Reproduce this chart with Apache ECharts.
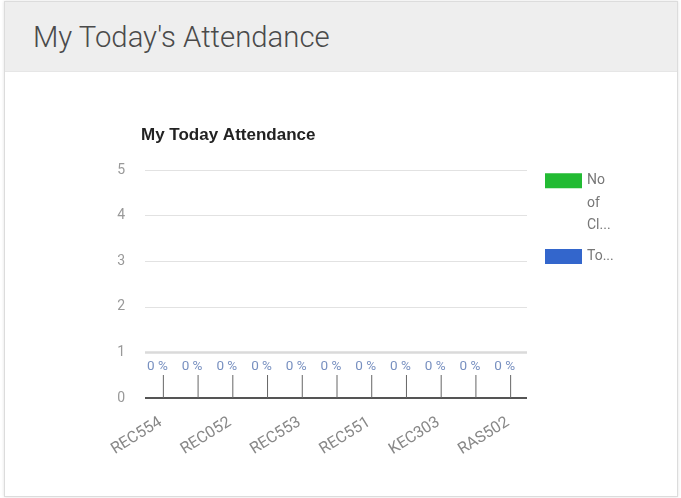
<!DOCTYPE html>
<html>
<head>
<meta charset="utf-8">
<script src="https://cdn.jsdelivr.net/npm/echarts@6/dist/echarts.min.js"></script>
<style>
html,body{margin:0;padding:0;background:#fff;width:681px;height:498px;overflow:hidden;font-family:Roboto,"Noto Sans",sans-serif;}
#card{position:absolute;left:4px;top:1px;width:672px;height:494px;border:1px solid #dcdcdc;box-shadow:0 0 3px rgba(0,0,0,0.12);background:#fff;}
#head{height:69px;background:#eeeeee;border-bottom:1px solid #e6e6e6;}
#head span{position:absolute;left:28px;top:18px;font-family:Roboto,sans-serif;font-weight:300;font-size:29.3px;color:#4a4a4a;}
#chart{position:absolute;left:0;top:0;width:681px;height:498px;}
</style>
</head>
<body>
<div id="card"><div id="head"><span>My Today's Attendance</span></div></div>
<div id="chart"></div>
<script>
// Data
const categories = ['REC554','REC055','REC052','REC054','REC553','REC552','REC551','KEC302','KEC303','RAS501','RAS502'];
const noOfClasses = [0,0,0,0,0,0,0,0,0,0,0];
const totalPresent = [0,0,0,0,0,0,0,0,0,0,0];
const percentLabels = ['0 %','0 %','0 %','0 %','0 %','0 %','0 %','0 %','0 %','0 %','0 %'];
const yTicks = [0,1,2,3,4,5];
const seriesNames = ['No of Classes','Total Present'];
const legendShort = {'No of Classes':'\n\nNo\nof\nCl...','Total Present':'To...'};

const chart = echarts.init(document.getElementById('chart'), null, {renderer:'canvas'});
chart.setOption({
  animation:false,
  title:{text:'My Today Attendance',left:136,top:122,textStyle:{fontFamily:'"Liberation Sans", Arial, sans-serif',fontSize:17,fontWeight:'bold',color:'#222'}},
  grid:{left:145,right:154,top:170,bottom:100},
  legend:[
    {data:[seriesNames[0]],orient:'vertical',left:545,top:124.5,padding:0,itemWidth:37,itemHeight:15,icon:'rect',itemGap:8,
     formatter:n=>legendShort[n],textStyle:{color:'#777',fontSize:14,lineHeight:22.5,fontFamily:'Roboto, Arial, sans-serif'}},
    {data:[seriesNames[1]],orient:'vertical',left:545,top:245.5,padding:0,itemWidth:37,itemHeight:15,icon:'rect',itemGap:8,
     formatter:n=>legendShort[n],textStyle:{color:'#777',fontSize:14,lineHeight:22,fontFamily:'Roboto, Arial, sans-serif'}}
  ],
  xAxis:{type:'category',data:categories,
    axisLine:{show:false},axisTick:{show:false},
    axisLabel:{interval:1,rotate:32,color:'#888',fontSize:16,margin:22,padding:[0,2,0,0],fontFamily:'Roboto, Arial, sans-serif'}},
  yAxis:{type:'value',min:yTicks[0],max:yTicks[yTicks.length-1],interval:1,
    axisLine:{show:false},axisTick:{show:false},
    axisLabel:{color:'#999',fontSize:14,margin:20,fontFamily:'Roboto, Arial, sans-serif'},
    splitLine:{lineStyle:{color:'#e2e2e2',width:1}}},
  series:[
    {name:seriesNames[0],type:'bar',data:noOfClasses,itemStyle:{color:'#22bb33'},barGap:'0%',
     markLine:{silent:true,symbol:'none',label:{show:false},data:[{yAxis:1,lineStyle:{color:'#dadada',width:2.5,type:'solid'}},{yAxis:0,lineStyle:{color:'#555',width:1.8,type:'solid'}}]}},
    {name:seriesNames[1],type:'bar',data:totalPresent,itemStyle:{color:'#3366cc'}},
    {name:'ann',type:'custom',data:totalPresent.map((v,i)=>[i,v]),z:5,
     renderItem:function(params,api){
       const p = api.coord([api.value(0),api.value(1)]);
       const i = params.dataIndex;
       return {type:'group',children:[
         {type:'line',shape:{x1:p[0]+1,y1:p[1],x2:p[0]+1,y2:p[1]-23},style:{stroke:'#666',lineWidth:1}},
         {type:'text',style:{text:percentLabels[i],x:p[0]-5,y:p[1]-31,align:'center',verticalAlign:'middle',fill:'#7890c0',font:'13.5px Roboto, Arial, sans-serif'}}
       ]};
     }}
  ]
});
</script>
</body>
</html>
